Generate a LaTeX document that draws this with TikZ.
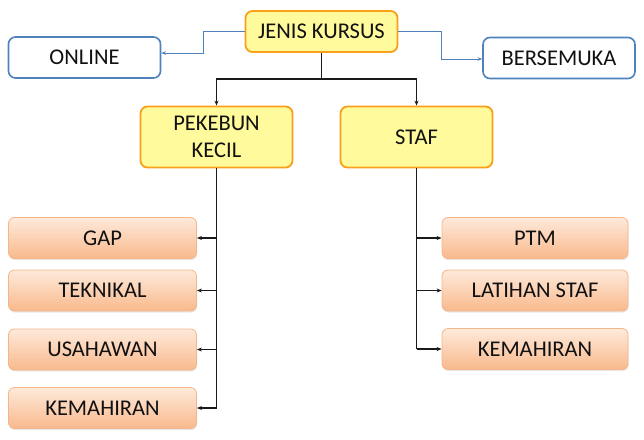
\documentclass[tikz,border=0pt]{standalone}
\usepackage{fontspec}
\setmainfont{Carlito}
\usetikzlibrary{arrows.meta,shadows}
\definecolor{kursusInk}{HTML}{111111}
\definecolor{kursusYellow}{HTML}{FFFA9C}
\definecolor{kursusGold}{HTML}{F9A01B}
\definecolor{kursusBlue}{HTML}{4F81BD}
\definecolor{kursusPeachTop}{HTML}{FEEADB}
\definecolor{kursusPeachBot}{HTML}{F9B98C}
\definecolor{kursusPeachLine}{HTML}{F5B58C}
\definecolor{kursusLine}{HTML}{1A1A1A}
\tikzset{
  every picture/.style={font=\fontsize{22.5}{27}\selectfont, text=kursusInk},
  head box/.style={draw=kursusGold, line width=1.8pt, rounded corners=7pt,
    fill=kursusYellow, align=center, minimum width=152pt, minimum height=41pt},
  mode box/.style={draw=kursusBlue, line width=1.6pt, rounded corners=7pt,
    fill=white, align=center, minimum width=152pt, minimum height=41pt},
  item box/.style={draw=kursusPeachLine, line width=0.8pt, rounded corners=6pt,
    top color=kursusPeachTop, bottom color=kursusPeachBot, align=center,
    minimum width=188pt, minimum height=41pt,
    drop shadow={opacity=0.18, shadow xshift=0.6pt, shadow yshift=-1.6pt}},
  tree arrow/.style={-{Stealth[length=5pt,width=4pt]}, draw=kursusLine, line width=1.1pt},
  mode arrow/.style={-{Stealth[length=4.5pt,width=3.6pt]}, draw=kursusBlue, line width=0.8pt}
}
\begin{document}
\begin{tikzpicture}[x=1pt,y=-1pt]
  \useasboundingbox (0,0) rectangle (644,439);
  % top level
  \node[head box] (jenis) at (321.5,31.5) {JENIS KURSUS};
  \node[mode box] (online) at (84.5,57.5) {ONLINE};
  \node[mode box] (bersemuka) at (559,58) {BERSEMUKA};
  \node[head box, minimum height=61pt] (pekebun) at (216.5,137) {PEKEBUN\\KECIL};
  \node[head box, minimum height=61pt] (staf) at (416.5,137) {STAF};

  % course lists
  \foreach \name/\y/\lab in {gap/238/GAP, teknikal/290.5/TEKNIKAL,
    usahawan/349.5/USAHAWAN, kemahiranA/408/KEMAHIRAN}{
    \node[item box] (\name) at (102.5,\y) {\lab};
  }
  \foreach \name/\y/\lab in {ptm/238/PTM, latihan/290.5/LATIHAN STAF,
    kemahiranB/349/KEMAHIRAN}{
    \node[item box, minimum width=186pt] (\name) at (535,\y) {\lab};
  }

  % online / bersemuka
  \coordinate (lbend) at (203,53);
  \coordinate (rbend) at (441,59);
  \draw[mode arrow] (jenis.west) -| (lbend) -- (online.east |- lbend);
  \draw[mode arrow] (jenis.east) -| (rbend) -- (bersemuka.west |- rbend);

  % main split
  \coordinate (split) at (321.5,79);
  \draw[kursusLine, line width=1.1pt] (jenis.south) -- (split);
  \draw[tree arrow] (split) -| (pekebun.north);
  \draw[tree arrow] (split) -| (staf.north);

  % branches
  \draw[kursusLine, line width=1.1pt] (pekebun.south) -- (pekebun.south |- kemahiranA.east);
  \foreach \name in {gap,teknikal,usahawan,kemahiranA}
    \draw[tree arrow] (pekebun.south |- \name.east) -- (\name.east);
  \draw[kursusLine, line width=1.1pt] (staf.south) -- (staf.south |- kemahiranB.west);
  \foreach \name in {ptm,latihan,kemahiranB}
    \draw[tree arrow] (staf.south |- \name.west) -- (\name.west);
\end{tikzpicture}
\end{document}
